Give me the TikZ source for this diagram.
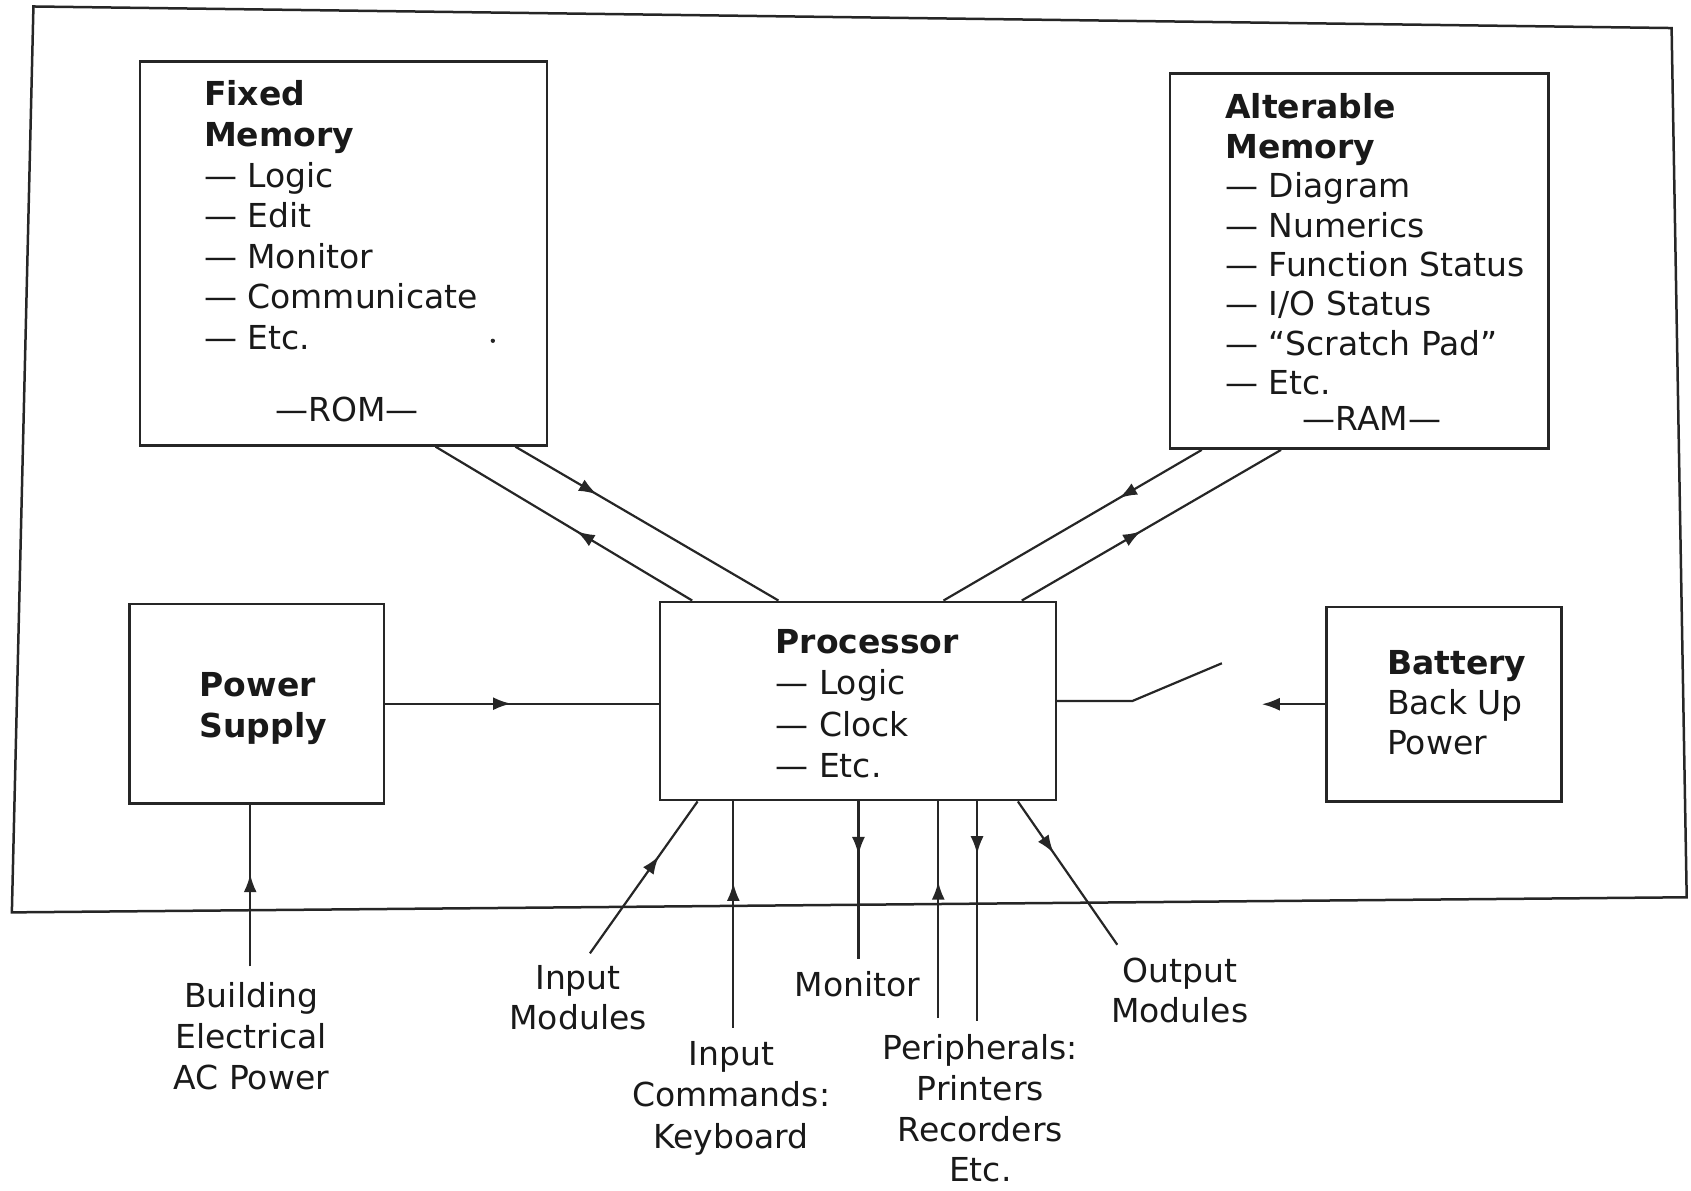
\documentclass[tikz,border=0pt]{standalone}
\usepackage{fontspec}
\setmainfont{DejaVu Sans}
\usetikzlibrary{arrows.meta,decorations.markings,calc,fit}

\tikzset{
  blockbox/.style={draw=black!85, line width=2.5pt, rectangle, inner sep=0pt},
  wire/.style={draw=black!85, line width=2.2pt},
  txt/.style={text=black!90, inner sep=0pt, align=left,
              font=\fontsize{33}{41}\selectfont},
  tip/.tip={Latex[length=18pt,width=13pt]},
  midtip/.style={postaction={decorate},
    decoration={markings, mark=at position #1 with {\arrow{tip}}}},
}

\begin{document}
\begin{tikzpicture}[x=1.0784pt, y=-1.0784pt]
\useasboundingbox (0,0) rectangle (1568,1104);

% controller enclosure
\draw[line width=2.5pt, black!85] (31,6) -- (1550,26) -- (1564,832) -- (11,846) -- cycle;

% blocks
\node[blockbox, fit={(130,57) (507,413)}] (fm) {};
\node[blockbox, fit={(1085,68) (1436,416)}] (ram) {};
\node[blockbox, fit={(120,560) (356,745)}] (ps) {};
\node[blockbox, fit={(612,558) (979,742)}] (proc) {};
\node[blockbox, fit={(1230,563) (1448,743)}] (bat) {};

% block contents (anchored at the baseline of the last line)
\node[txt, anchor=base west, font=\fontsize{33}{40.6}\selectfont] (fmtext) at (189,324)
  {\textbf{Fixed}\\\textbf{Memory}\\— Logic\\— Edit\\— Monitor\\— Communicate\\— Etc.};
\node[txt, anchor=base] (romtext) at (322,391) {—ROM—};
\fill[black!85] (457,316) circle (2);

\node[txt, anchor=base west, font=\fontsize{33}{39.4}\selectfont] (ramtext) at (1136,366)
  {\textbf{Alterable}\\\textbf{Memory}\\— Diagram\\— Numerics\\— Function Status\\— I/O Status\\— “Scratch Pad”\\— Etc.};
\node[txt, anchor=base] (ramlabel) at (1272,399) {—RAM—};

\node[txt, anchor=base west] (pstext) at (185,684) {\textbf{Power}\\\textbf{Supply}};
\node[txt, anchor=base west, font=\fontsize{33}{41.5}\selectfont] (proctext) at (719,721)
  {\textbf{Processor}\\— Logic\\— Clock\\— Etc.};
\node[txt, anchor=base west, font=\fontsize{33}{40}\selectfont] (battext) at (1286,700)
  {\textbf{Battery}\\Back Up\\Power};

% memory buses
\draw[wire, midtip=0.31] ($(fm.south west)+(349,0)$) -- ($(proc.north west)+(111,0)$);
\draw[wire, midtip=0.45] ($(proc.north west)+(31,0)$) -- ($(fm.south west)+(275,0)$);
\draw[wire, midtip=0.32] ($(ram.south west)+(30.5,0)$) -- ($(proc.north west)+(264,0)$);
\draw[wire, midtip=0.46] ($(proc.north west)+(336.6,0)$) -- ($(ram.south west)+(104,0)$);

% power paths
\draw[wire, midtip=0.46] (ps.east) -- (ps.east -| proc.west);
\coordinate (swpivot) at (1050,651);
\coordinate (swblade) at (1133,615);
\draw[wire] (proc.east) -- (proc.east -| swpivot) -- (swblade);
\coordinate (battip) at (1170,653);
\draw[wire, -tip] (bat.west) -- (bat.west -| battip);

% external connections
\coordinate (acin) at (232,896);
\draw[wire, midtip=0.57] (acin) -- (acin |- ps.south);
\coordinate (inmod) at (547,884);
\draw[wire, midtip=0.64] (inmod) -- ($(proc.south west)+(36,0)$);
\coordinate (kbd) at (680,953);
\draw[wire, midtip=0.64] (kbd) -- (kbd |- proc.south);
\coordinate (mon) at (796,889);
\draw[wire, midtip=0.34] (mon |- proc.south) -- (mon);
\coordinate (perin) at (870,944);
\draw[wire, midtip=0.63] (perin) -- (perin |- proc.south);
\coordinate (perout) at (906,947);
\draw[wire, midtip=0.24] (perout |- proc.south) -- (perout);
\coordinate (outmod) at (1036,876);
\draw[wire, midtip=0.36] ($(proc.south west)+(333,0)$) -- (outmod);

% external labels (anchored at the baseline of the last line)
\node[txt, align=center, anchor=base] (acl) at (233,1010) {Building\\Electrical\\AC Power};
\node[txt, align=center, anchor=base, font=\fontsize{33}{40}\selectfont] (inl) at (536,955) {Input\\Modules};
\node[txt, align=center, anchor=base, font=\fontsize{33}{41.7}\selectfont] (kbl) at (678,1065) {Input\\Commands:\\Keyboard};
\node[txt, align=center, anchor=base] (monl) at (795,924) {Monitor};
\node[txt, align=center, anchor=base, font=\fontsize{33}{40.8}\selectfont] (perl) at (909,1096) {Peripherals:\\Printers\\Recorders\\Etc.};
\node[txt, align=center, anchor=base, font=\fontsize{33}{40}\selectfont] (outl) at (1094,948) {Output\\Modules};
\end{tikzpicture}
\end{document}
